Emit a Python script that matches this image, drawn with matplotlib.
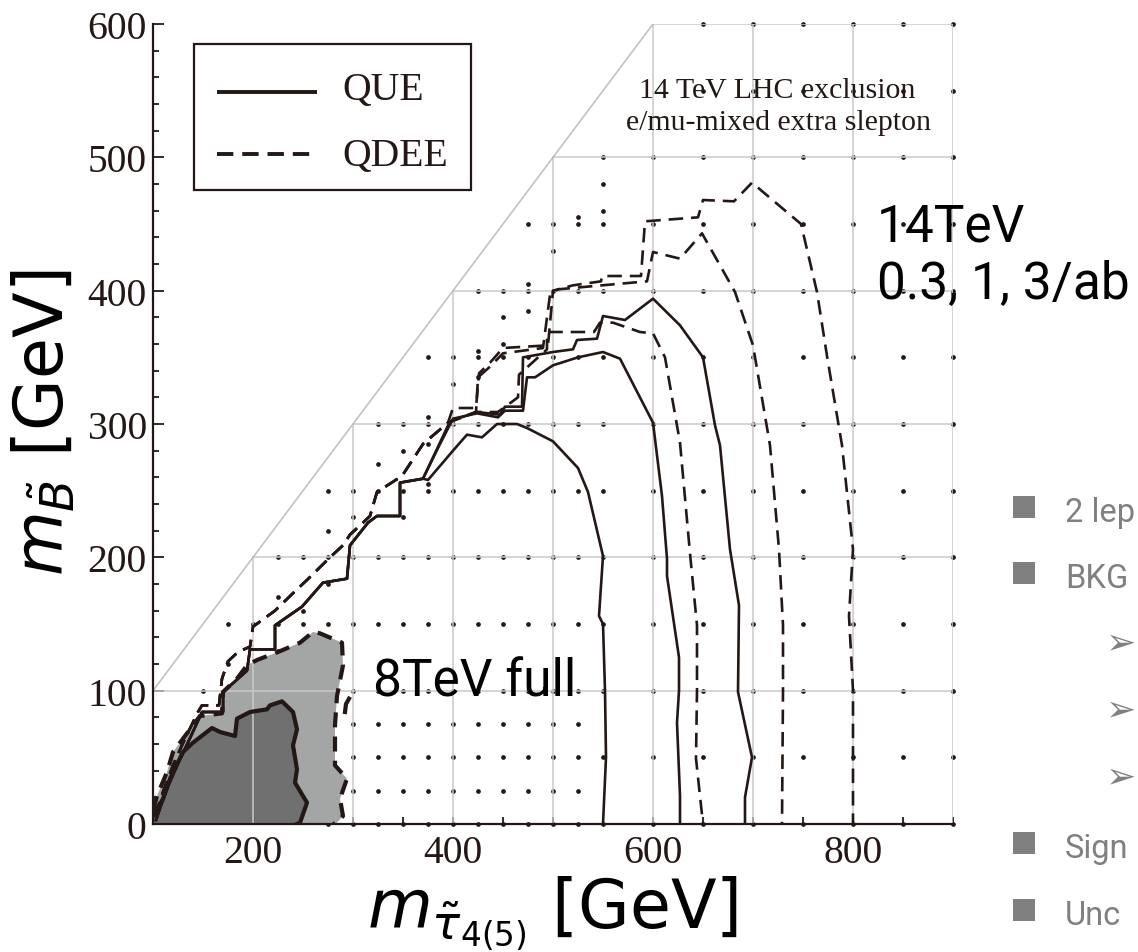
import matplotlib
matplotlib.use("Agg")
import matplotlib.pyplot as plt
from matplotlib.patches import Polygon, Rectangle

INK = "#231815"
GRID = "#c9c9c9"
SLIDE_GRAY = "#808080"

plt.rcParams["mathtext.fontset"] = "dejavusans"

# ---------------- data: (m_stau, m_Bino) in GeV ----------------
# scan points, one list of m_stau values per m_Bino row
scan_rows = {
    600: [650, 700, 750, 800, 850, 900],
    550: [650, 700, 750, 800, 850, 900],
    500: [550, 600, 650, 700, 750, 800, 850, 900],
    450: [475, 500, 525, 550, 600, 650, 700, 750, 800, 850, 900],
    400: [425, 450, 475, 500, 525, 550, 600, 650, 700, 750, 800, 850, 900],
    350: [375, 400, 425, 450, 475, 500, 525, 550, 600, 650, 700, 750, 800, 850, 900],
    300: [325, 350, 375, 400, 425, 450, 475, 500, 525, 550, 600, 650, 700, 750, 800, 850, 900],
    250: [275, 300, 325, 350, 375, 400, 425, 450, 475, 500, 525, 550, 600, 650, 700, 750, 800, 850, 900],
    200: [225, 250, 275, 300, 325, 350, 375, 400, 425, 450, 475, 500, 525, 550, 600, 650, 700, 750, 800, 850, 900],
    150: [175, 200, 225, 250, 275, 300, 325, 350, 375, 400, 425, 450, 475, 500, 525, 550, 600, 650, 700, 750, 800, 850, 900],
    100: [150, 175, 200, 225, 250, 275, 300, 325, 350, 375, 400, 425, 450, 475, 500, 525, 550, 600, 650, 700, 750, 800, 850, 900],
    75: [300, 325, 350, 375, 400, 425, 450, 475, 500, 525],
    50: [250, 275, 300, 325, 350, 375, 400, 425, 450, 475, 500, 525, 550, 600, 650, 700, 750, 800, 850, 900],
    25: [300, 325, 350, 375, 400, 425, 450, 475, 500, 525],
    0: [275, 300, 325, 350, 375, 400, 425, 450, 475, 500, 525, 550, 600, 650, 700, 750, 800, 850, 900],
}
# extra points close to the kinematic edge
edge_scan = [(175, 120), (225, 130), (250, 160), (225, 170), (275, 180), (275, 220),
             (300, 230), (350, 230), (375, 255), (325, 270), (350, 280), (375, 285),
             (375, 305), (400, 330), (425, 335), (425, 355), (450, 360), (450, 380),
             (475, 385), (475, 405), (500, 430), (525, 455), (550, 460), (550, 480)]

# 8 TeV full-data exclusions (filled regions)
excl8_que = [(100, 0), (100, 6), (110, 19), (117, 34), (130, 54), (140, 61), (159, 72),
             (167, 69), (182, 66), (184, 79), (197, 84), (214, 86), (217, 89), (229, 92),
             (240, 84), (244, 71), (240, 59), (244, 41), (242, 31), (254, 16), (247, 1),
             (244, 0)]
excl8_qdee = [(100, 0), (100, 10), (104, 21), (114, 39), (120, 54), (130, 64), (147, 81),
              (169, 83), (170, 99), (184, 109), (194, 119), (204, 123), (225, 129),
              (247, 136), (260, 144), (267, 143), (289, 136), (290, 119), (284, 96),
              (282, 74), (282, 44), (294, 34), (287, 19), (290, 6), (284, 1), (280, 0)]
excl8_qdee_island = [(292, 84), (293, 90), (296, 94)]

# 14 TeV reach: common stretch along the kinematic edge
edge_que = [(103, 3), (108, 14), (116, 30), (126, 47), (138, 66), (149, 84), (170, 84),
            (170, 99), (194, 115), (197, 131), (222, 131), (222, 149), (249, 163),
            (270, 181), (294, 184), (297, 209), (315, 226), (324, 231), (347, 231),
            (347, 256), (370, 259)]
edge_qdee = [(102, 6), (110, 24), (120, 44), (132, 64), (145, 84), (149, 89), (166, 89),
             (169, 109), (175, 122), (185, 129), (197, 133), (200, 148), (222, 160),
             (244, 176), (254, 183), (277, 200), (290, 209), (297, 217), (310, 226),
             (317, 231), (324, 249), (349, 261), (370, 285), (395, 301)]

# 14 TeV QUE: 0.3, 1, 3 /ab
que_03ab = [(375, 258), (400, 280), (414, 292), (429, 290), (444, 300), (464, 300),
            (474, 297), (500, 287), (525, 267), (535, 249), (550, 201), (546, 156),
            (550, 150), (552, 100), (553, 50), (550, 0)]
que_1ab = [(385, 282), (400, 304), (424, 308), (445, 305), (452, 310), (470, 310),
           (474, 335), (482, 335), (500, 344), (525, 350), (550, 354), (567, 349),
           (600, 301), (609, 246), (614, 199), (614, 186), (626, 125), (626, 100),
           (624, 76), (627, 21), (627, 0)]
que_3ab = [(397, 302), (424, 309), (447, 307), (452, 313), (469, 313), (470, 350),
           (500, 354), (520, 356), (524, 363), (544, 364), (550, 381), (572, 378),
           (600, 394), (627, 374), (650, 350), (662, 299), (667, 284), (677, 206),
           (686, 164), (685, 99), (699, 50), (692, 20), (692, 0)]

# 14 TeV QDEE: 0.3, 1, 3 /ab
qdee_03ab = [(423, 309), (445, 309), (465, 320), (466, 337), (494, 356), (494, 369),
             (541, 369), (547, 376), (560, 376), (587, 369), (600, 368), (612, 350),
             (627, 286), (637, 203), (644, 149), (644, 100), (643, 49), (650, 0)]
qdee_1ab = [(423, 309), (425, 335), (437, 343), (450, 353), (490, 357), (497, 397),
            (505, 401), (549, 404), (594, 407), (600, 429), (627, 424), (649, 443),
            (682, 399), (700, 359), (717, 284), (726, 206), (730, 149), (730, 100),
            (729, 0)]
qdee_3ab = [(400, 312), (423, 312), (426, 338), (437, 346), (450, 357), (495, 359),
            (500, 400), (520, 404), (548, 407), (549, 411), (588, 411), (592, 452),
            (645, 455), (650, 468), (681, 467), (699, 481), (748, 450), (764, 399),
            (774, 351), (789, 284), (800, 206), (796, 156), (800, 100), (800, 0)]

x_ticks = [200, 400, 600, 800]
y_ticks = [0, 100, 200, 300, 400, 500, 600]


def xs(pts):
    return [p[0] for p in pts]


def ys(pts):
    return [p[1] for p in pts]


# ---------------- figure ----------------
W, H = 1138, 953
fig = plt.figure(figsize=(W / 100, H / 100), dpi=100)
fig.patch.set_facecolor("white")

ax = fig.add_axes([153 / W, 128 / H, 800 / W, 800 / H])
ax.set_xlim(100, 900)
ax.set_ylim(0, 600)
ax.set_facecolor("none")

# scan points
dot_x, dot_y = [], []
for row_y, row_xs in scan_rows.items():
    dot_x += row_xs
    dot_y += [row_y] * len(row_xs)
dot_x += xs(edge_scan)
dot_y += ys(edge_scan)
ax.plot(dot_x, dot_y, "o", ms=3.4, color=INK, mec="none", zorder=1, clip_on=False)

# 8 TeV filled exclusions
ax.add_patch(Polygon(excl8_qdee, closed=True, fc="#a4a5a5", ec="none", zorder=2))
ax.add_patch(Polygon(excl8_que, closed=True, fc="#707070", ec="none", zorder=2.1))

# light grid restricted to the allowed region m_B < m_stau
for gx in range(200, 901, 100):
    ax.plot([gx, gx], [0, min(gx, 600)], color=GRID, lw=1.1, zorder=3)
for gy in range(100, 601, 100):
    ax.plot([max(gy, 100), 900], [gy, gy], color=GRID, lw=1.1, zorder=3)
ax.plot([100, 600], [100, 600], color="#bdbdbd", lw=1.1, zorder=3)

# 8 TeV boundaries
ax.plot(xs(excl8_qdee[1:]), ys(excl8_qdee[1:]), color=INK, lw=3.0,
        dashes=(3.6, 2.2), zorder=5)
ax.plot(xs(excl8_qdee_island), ys(excl8_qdee_island), color=INK, lw=3.0, zorder=5)
ax.plot(xs(excl8_que[1:]), ys(excl8_que[1:]), color=INK, lw=3.0, zorder=5.1)

# 14 TeV contours
for curve in (que_03ab, que_1ab, que_3ab):
    pts = edge_que + curve
    ax.plot(xs(pts), ys(pts), color=INK, lw=1.9, zorder=6)
for curve in (qdee_03ab, qdee_1ab, qdee_3ab):
    pts = edge_qdee + curve
    ax.plot(xs(pts), ys(pts), color=INK, lw=1.9, dashes=(5.5, 3.0), zorder=6)

# axes frame and ticks
for side in ("top", "right"):
    ax.spines[side].set_visible(False)
for side in ("left", "bottom"):
    ax.spines[side].set_color(INK)
    ax.spines[side].set_linewidth(1.6)
    ax.spines[side].set_zorder(7)

ax.set_xticks(x_ticks)
ax.set_yticks(y_ticks)
ax.set_xticks(range(150, 901, 50), minor=True)
ax.set_yticks(range(0, 601, 20), minor=True)
ax.tick_params(axis="both", which="both", direction="in", color=INK, width=1.3,
               labelcolor=INK)
ax.tick_params(axis="y", which="major", length=8, pad=4.5)
ax.tick_params(axis="y", which="minor", length=4.5)
ax.tick_params(axis="x", which="major", length=5, pad=7)
ax.tick_params(axis="x", which="minor", length=5)
ax.tick_params(top=False, right=False)
for lab in ax.get_xticklabels() + ax.get_yticklabels():
    lab.set_fontfamily("Liberation Serif")
    lab.set_fontsize(28.5)

# ---------------- overlay in pixel coordinates ----------------
ov = fig.add_axes([0, 0, 1, 1], zorder=10)
ov.set_xlim(0, W)
ov.set_ylim(H, 0)
ov.axis("off")
ov.set_facecolor("none")

# legend
ov.add_patch(Rectangle((194, 45), 277, 146, fc="white", ec=INK, lw=1.6))
ov.plot([217, 317], [93, 93], color=INK, lw=2.8, solid_capstyle="butt")
ov.plot([217, 314], [155, 155], color=INK, lw=2.8, dashes=(4.2, 2.3),
        dash_capstyle="butt")
ov.text(342, 100, "QUE", fontfamily="Liberation Serif", fontsize=28.5, color=INK,
        va="baseline")
ov.text(342, 166.5, "QDEE", fontfamily="Liberation Serif", fontsize=28.5, color=INK,
        va="baseline")

# plot caption
ov.text(777, 98, "14 TeV LHC exclusion", fontfamily="Liberation Serif", fontsize=21.5,
        color=INK, ha="center", va="baseline")
ov.text(779, 130, "e/mu-mixed extra slepton", fontfamily="Liberation Serif",
        fontsize=21.5, color=INK, ha="center", va="baseline")

# annotations
ov.text(877, 242, "14TeV", fontfamily="Roboto", fontsize=37, color="black",
        va="baseline")
ov.text(877, 298, "0.3, 1, 3/ab", fontfamily="Roboto", fontsize=37, color="black",
        va="baseline")
ov.text(373, 697, "8TeV full", fontfamily="Roboto", fontsize=37, color="black",
        va="baseline")

# axis titles
ov.text(553, 928, r"$m_{\tilde{\tau}_{4(5)}}$ [GeV]", fontsize=48, color="black",
        ha="center", va="baseline")
ov.text(44, 423, r"$m_{\tilde{B}}$ [GeV]", fontsize=48, color="black", rotation=90,
        ha="center", va="center")

# slide bullet list at the right edge
for top, label in ((497, "2 lep"), (563, "BKG"), (833, "Sign"), (900, "Unc")):
    ov.add_patch(Rectangle((1013, top), 22, 22, fc=SLIDE_GRAY, ec="none"))
    ov.text(1065, top + 25, label, fontfamily="Roboto", fontsize=23.5, color=SLIDE_GRAY,
            va="baseline")
for cy in (643, 710, 777):
    ov.text(1106, cy, "\u27a2", fontfamily="DejaVu Sans", fontsize=26,
            color=SLIDE_GRAY, va="center")

fig.savefig("out.png", dpi=100)
